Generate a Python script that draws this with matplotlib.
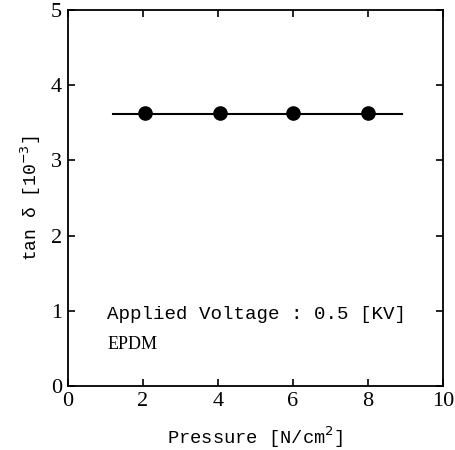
import matplotlib.pyplot as plt

# measured points
pressure = [2.05, 4.05, 6.0, 8.0]
tan_delta = [3.63, 3.63, 3.63, 3.63]
# fitted line extent
line_x = [1.2, 8.9]
line_y = [3.62, 3.62]

x_ticks = [0, 2, 4, 6, 8, 10]
y_ticks = [0, 1, 2, 3, 4, 5]

fig = plt.figure(figsize=(4.55, 4.5), dpi=100)
ax = fig.add_axes([0.149, 0.142, 0.825, 0.836])

ax.plot(line_x, line_y, color='black', lw=1.5)
ax.plot(pressure, tan_delta, 'o', color='black', markersize=9.5)

ax.set_xlim(0, 10)
ax.set_ylim(0, 5)
ax.set_xticks(x_ticks)
ax.set_yticks(y_ticks)
ax.tick_params(direction='in', top=True, right=True, length=5, width=1.2,
               labelsize=16, pad=4)
for lab in ax.get_xticklabels() + ax.get_yticklabels():
    lab.set_family('Liberation Serif')
for sp in ax.spines.values():
    sp.set_linewidth(1.3)

mono = 'Liberation Mono'
ax.set_xlabel('Pressure [N/cm$^2$]', family=mono, fontsize=13.5, labelpad=10)
ax.set_ylabel('tan δ [10$^{-3}$]', family=mono, fontsize=13, labelpad=6)
ax.text(1.05, 0.95, 'Applied Voltage : 0.5 [KV]', family=mono, fontsize=13.8,
        va='center')
ax.text(1.05, 0.55, 'EPDM', family='Liberation Serif', fontsize=13, va='center')

fig.savefig('out.png', dpi=100)
